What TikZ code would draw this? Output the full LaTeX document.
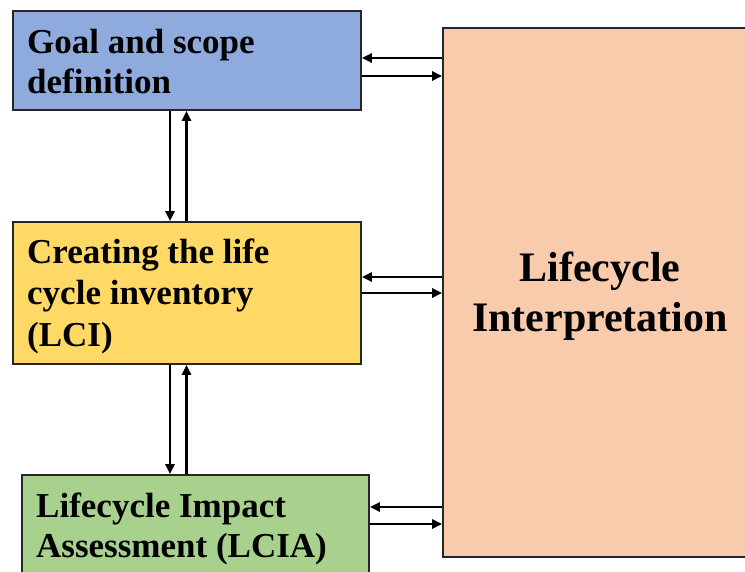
\documentclass[tikz,border=0pt]{standalone}
\usepackage{fontspec}
\setmainfont{Liberation Serif}
\usetikzlibrary{arrows.meta,calc}
\definecolor{cblue}{HTML}{8FAADC}
\definecolor{cyellow}{HTML}{FFD966}
\definecolor{cgreen}{HTML}{A9D18E}
\definecolor{cpeach}{HTML}{F8CBAD}
\definecolor{cedge}{HTML}{262626}
\tikzset{
  box/.style={draw=cedge, line width=1.6pt, rectangle, inner sep=0pt},
  lbl/.style={inner sep=0pt, anchor=base west, font=\fontsize{35}{40}\selectfont\bfseries},
  biglbl/.style={inner sep=0pt, anchor=base, font=\fontsize{42}{50}\selectfont\bfseries},
  arr/.style={line width=2.9pt, -{Triangle[length=10pt,width=9pt]}}
}
\begin{document}
\begin{tikzpicture}[x=1pt,y=-1pt]
\useasboundingbox (0,0) rectangle (745,571);
\clip (0,0) rectangle (745,571);
% boxes
\node[box, fill=cblue, minimum width=348pt, minimum height=99pt] (goal) at (187,60.5) {};
\node[box, fill=cyellow, minimum width=348pt, minimum height=142pt] (lci) at (187,293) {};
\node[box, fill=cgreen, minimum width=347pt, minimum height=130pt] (lcia) at (195.5,540) {};
\node[box, fill=cpeach, minimum width=330pt, minimum height=529pt] (interp) at (608,292.5) {};
% texts
\node[lbl] (g1) at (27,53) {Goal and scope};
\node[lbl] (g2) at (27,93) {definition};
\node[lbl] (c1) at (27,263) {Creating the life};
\node[lbl] (c2) at (27,304) {cycle inventory};
\node[lbl] (c3) at (27,346) {(LCI)};
\node[lbl] (a1) at (36,517) {Lifecycle Impact};
\node[lbl] (a2) at (36,557) {Assessment (LCIA)};
\node[biglbl] (i1) at (600,281) {Lifecycle};
\node[biglbl] (i2) at (600,331) {Interpretation};
% helper coordinates
\coordinate (h1) at (0,58);
\coordinate (h2) at (0,76);
\coordinate (h3) at (0,277);
\coordinate (h4) at (0,293);
\coordinate (h5) at (0,507);
\coordinate (h6) at (0,524);
\coordinate (v1) at (170,0);
\coordinate (v2) at (186.5,0);
% horizontal arrows
\draw[arr] (interp.west |- h1) -- (goal.east |- h1);
\draw[arr] (goal.east |- h2) -- (interp.west |- h2);
\draw[arr] (interp.west |- h3) -- (lci.east |- h3);
\draw[arr] (lci.east |- h4) -- (interp.west |- h4);
\draw[arr] (interp.west |- h5) -- (lcia.east |- h5);
\draw[arr] (lcia.east |- h6) -- (interp.west |- h6);
% vertical arrows
\draw[arr] (v1 |- goal.south) -- (v1 |- lci.north);
\draw[arr] (v2 |- lci.north) -- (v2 |- goal.south);
\draw[arr] (v1 |- lci.south) -- (v1 |- lcia.north);
\draw[arr] (v2 |- lcia.north) -- (v2 |- lci.south);
\end{tikzpicture}
\end{document}
